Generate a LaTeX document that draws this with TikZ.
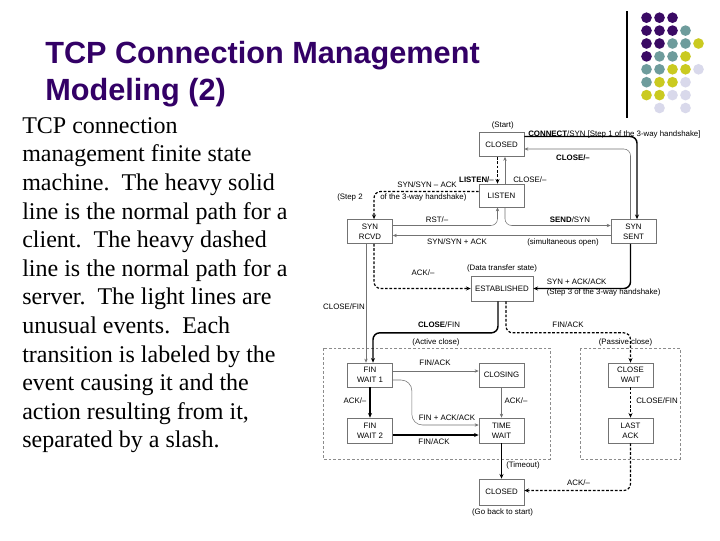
\documentclass[tikz,border=0pt]{standalone}
\usepackage{fontspec}
\setmainfont{Liberation Serif}
\setsansfont{Liberation Sans}
\usetikzlibrary{arrows.meta,calc}
\definecolor{titlecol}{HTML}{330066}
\definecolor{dotP}{HTML}{3A0A64}
\definecolor{dotT}{HTML}{6E9C9C}
\definecolor{dotY}{HTML}{CACA20}
\definecolor{dotL}{HTML}{D9D9EB}
\tikzset{
 state/.style={draw=black!55, line width=0.5pt, fill=white, minimum width=33.75pt, minimum height=18pt, inner sep=0pt, align=center, font=\sffamily\fontsize{5.9}{7.2}\selectfont},
 lbl/.style={font=\sffamily\fontsize{5.9}{7}\selectfont, inner sep=0pt},
 heavy/.style={line width=1.1pt, rounded corners=5pt, -{Stealth[length=3.5pt,width=3pt]}},
 heavydash/.style={line width=0.9pt, dash pattern=on 2pt off 1.3pt, rounded corners=5pt, -{Stealth[length=3.5pt,width=3pt]}},
 light/.style={line width=0.4pt, draw=black!55, rounded corners=5pt, -{Stealth[length=3pt,width=2.5pt]}},
 group/.style={draw=black!45, line width=0.4pt, dash pattern=on 2pt off 1.5pt},
 dot/.style={circle, inner sep=0pt, minimum size=8pt},
 bodyline/.style={anchor=base west, inner sep=0pt, font=\rmfamily\fontsize{18}{21.45}\selectfont},
 titleline/.style={anchor=base west, inner sep=0pt, font=\sffamily\bfseries\fontsize{23}{27}\selectfont, text=titlecol}
}
\begin{document}
\begin{tikzpicture}[x=0.75pt,y=-0.75pt]
\useasboundingbox (0,0) rectangle (720,540);
\fill[white] (0,0) rectangle (720,540);

% title
\node[titleline] (t1) at (45,63) {TCP Connection Management};
\node[titleline] (t2) at (45,100) {Modeling (2)};

% body text
\foreach \txt [count=\i] in {TCP connection,management finite state,machine.\ \ The heavy solid,line is the normal path for a,client.\ \ The heavy dashed,line is the normal path for a,server.\ \ The light lines are,unusual events.\ \ Each,transition is labeled by the,event causing it and the,{action resulting from it,},separated by a slash.}
  \node[bodyline] (b\i) at (22,{133.3+(\i-1)*28.6}) {\txt};

% decoration
\draw[line width=0.8pt] (627,11) -- (627,118);
\foreach \c/\r/\col in {0/0/dotP,1/0/dotP,2/0/dotP,
  0/1/dotP,1/1/dotP,2/1/dotP,3/1/dotT,
  0/2/dotP,1/2/dotP,2/2/dotT,3/2/dotT,4/2/dotY,
  0/3/dotP,1/3/dotT,2/3/dotT,3/3/dotY,
  0/4/dotT,1/4/dotT,2/4/dotY,3/4/dotY,4/4/dotL,
  0/5/dotT,1/5/dotY,2/5/dotY,3/5/dotL,
  0/6/dotY,1/6/dotY,2/6/dotL,3/6/dotL,
  1/7/dotL,3/7/dotL}
  \node[dot, fill=\col] (d\c\r) at ({646.5+13*\c},{17.7+12.9*\r}) {};

% groups
\draw[group] (323,348) rectangle (550,459);
\draw[group] (580,348) rectangle (680,459);

% states
\node[state] (closedA) at (501.5,144.5) {CLOSED};
\node[state, minimum height=17.25pt] (listen) at (501.5,195.5) {LISTEN};
\node[state] (synrcvd) at (370,231.5) {SYN\\RCVD};
\node[state] (synsent) at (633.5,231.5) {SYN\\SENT};
\node[state, minimum width=46.5pt, minimum height=18.75pt] (estab) at (502,288.5) {ESTABLISHED};
\node[state] (finw1) at (370,375) {FIN\\WAIT 1};
\node[state] (closing) at (501.5,375) {CLOSING};
\node[state] (closewait) at (630.5,375) {CLOSE\\WAIT};
\node[state, minimum height=18.75pt] (finw2) at (370,430.5) {FIN\\WAIT 2};
\node[state, minimum height=18.75pt] (timewait) at (501.5,430.5) {TIME\\WAIT};
\node[state, minimum height=18.75pt] (lastack) at (630.5,430.5) {LAST\\ACK};
\node[state, minimum height=19.5pt] (closedB) at (501.5,492) {CLOSED};

% transitions
\draw[heavy] ($(closedA.east)+(0,-8)$) -| ($(synsent.north)+(3.5,0)$);
\draw[light] ($(synsent.north)+(-3,0)$) |- ($(closedA.east)+(0,4.5)$);
\draw[heavydash] ($(closedA.south)+(-4,0)$) -- ($(listen.north)+(-4,0)$);
\draw[light] ($(listen.north)+(3.5,0)$) -- ($(closedA.south)+(3.5,0)$);
\draw[heavydash] ($(listen.west)+(0,-4)$) -| ($(synrcvd.north)+(4,0)$);
\draw[light] ($(synrcvd.east)+(0,-6)$) -| ($(listen.south)+(-4,0)$);
\draw[light] ($(listen.south)+(3.5,0)$) |- ($(synsent.west)+(0,-6)$);
\draw[light] ($(synsent.west)+(0,4)$) -- ($(synrcvd.east)+(0,4)$);
\draw[heavydash] ($(synrcvd.south)+(4,0)$) |- (estab.west);
\draw[light] ($(synrcvd.south)+(-4,0)$) -- ($(finw1.north)+(-4,0)$);
\draw[heavy] ($(synsent.south)+(-3,0)$) |- (estab.east);
\draw[heavy] ($(estab.south)+(-4,0)$) -- ++(0,31.5) -| ($(finw1.north)+(3,0)$);
\draw[heavydash] ($(estab.south)+(4,0)$) -- ++(0,31.5) -| (closewait.north);
\draw[light] ($(finw1.east)+(0,-4)$) -- ($(closing.west)+(0,-4)$);
\draw[light, rounded corners=8pt] ($(finw1.east)+(0,5)$) -- ++(19,0) |- ($(timewait.west)+(0,-5.5)$);
\draw[heavy] (finw1) -- (finw2);
\draw[heavy] ($(finw2.east)+(0,4.5)$) -- ($(timewait.west)+(0,4.5)$);
\draw[light] (closing) -- (timewait);
\draw[heavy] (timewait) -- (closedB);
\draw[heavydash] (closewait) -- (lastack);
\draw[heavydash] (lastack.south) |- ($(closedB.east)+(0,-1.5)$);

% labels
\node[lbl] (l1) at (502.7,125) {(Start)};
\node[lbl, anchor=west] (l2) at (528,134) {\textbf{CONNECT}/SYN [Step 1 of the 3-way handshake]};
\node[lbl] (l3) at (573,158) {\textbf{CLOSE/–}};
\node[lbl, anchor=east] (l4) at (494,180) {\textbf{LISTEN/}–};
\node[lbl, anchor=west] (l5) at (513,180) {CLOSE/–};
\node[lbl] (l6) at (427,185) {SYN/SYN – ACK};
\node[lbl, anchor=west] (l7) at (337,197) {(Step 2};
\node[lbl, anchor=west] (l8) at (380,197) {of the 3-way handshake)};
\node[lbl] (l9) at (437,220) {RST/–};
\node[lbl] (l10) at (570,220) {\textbf{SEND}/SYN};
\node[lbl] (l11) at (457,242) {SYN/SYN + ACK};
\node[lbl] (l12) at (563,242) {(simultaneous open)};
\node[lbl] (l13) at (502,268) {(Data transfer state)};
\node[lbl] (l14) at (423,273) {ACK/–};
\node[lbl, anchor=west] (l15) at (546.5,282) {SYN + ACK/ACK};
\node[lbl, anchor=west] (l16) at (546.5,292) {(Step 3 of the 3-way handshake)};
\node[lbl] (l17) at (344,307) {CLOSE/FIN};
\node[lbl] (l18) at (439,325) {\textbf{CLOSE}/FIN};
\node[lbl] (l19) at (568,325) {FIN/ACK};
\node[lbl] (l20) at (436,342) {(Active close)};
\node[lbl] (l21) at (625.5,342) {(Passive close)};
\node[lbl] (l22) at (435,363) {FIN/ACK};
\node[lbl] (l23) at (355,401) {ACK/–};
\node[lbl] (l24) at (516,401) {ACK/–};
\node[lbl, anchor=west] (l25) at (636,401) {CLOSE/FIN};
\node[lbl] (l26) at (447,418) {FIN + ACK/ACK};
\node[lbl] (l27) at (434,442) {FIN/ACK};
\node[lbl, anchor=west] (l28) at (506,465) {(Timeout)};
\node[lbl] (l29) at (502.5,512) {(Go back to start)};
\node[lbl] (l30) at (578.5,483) {ACK/–};
\end{tikzpicture}
\end{document}
